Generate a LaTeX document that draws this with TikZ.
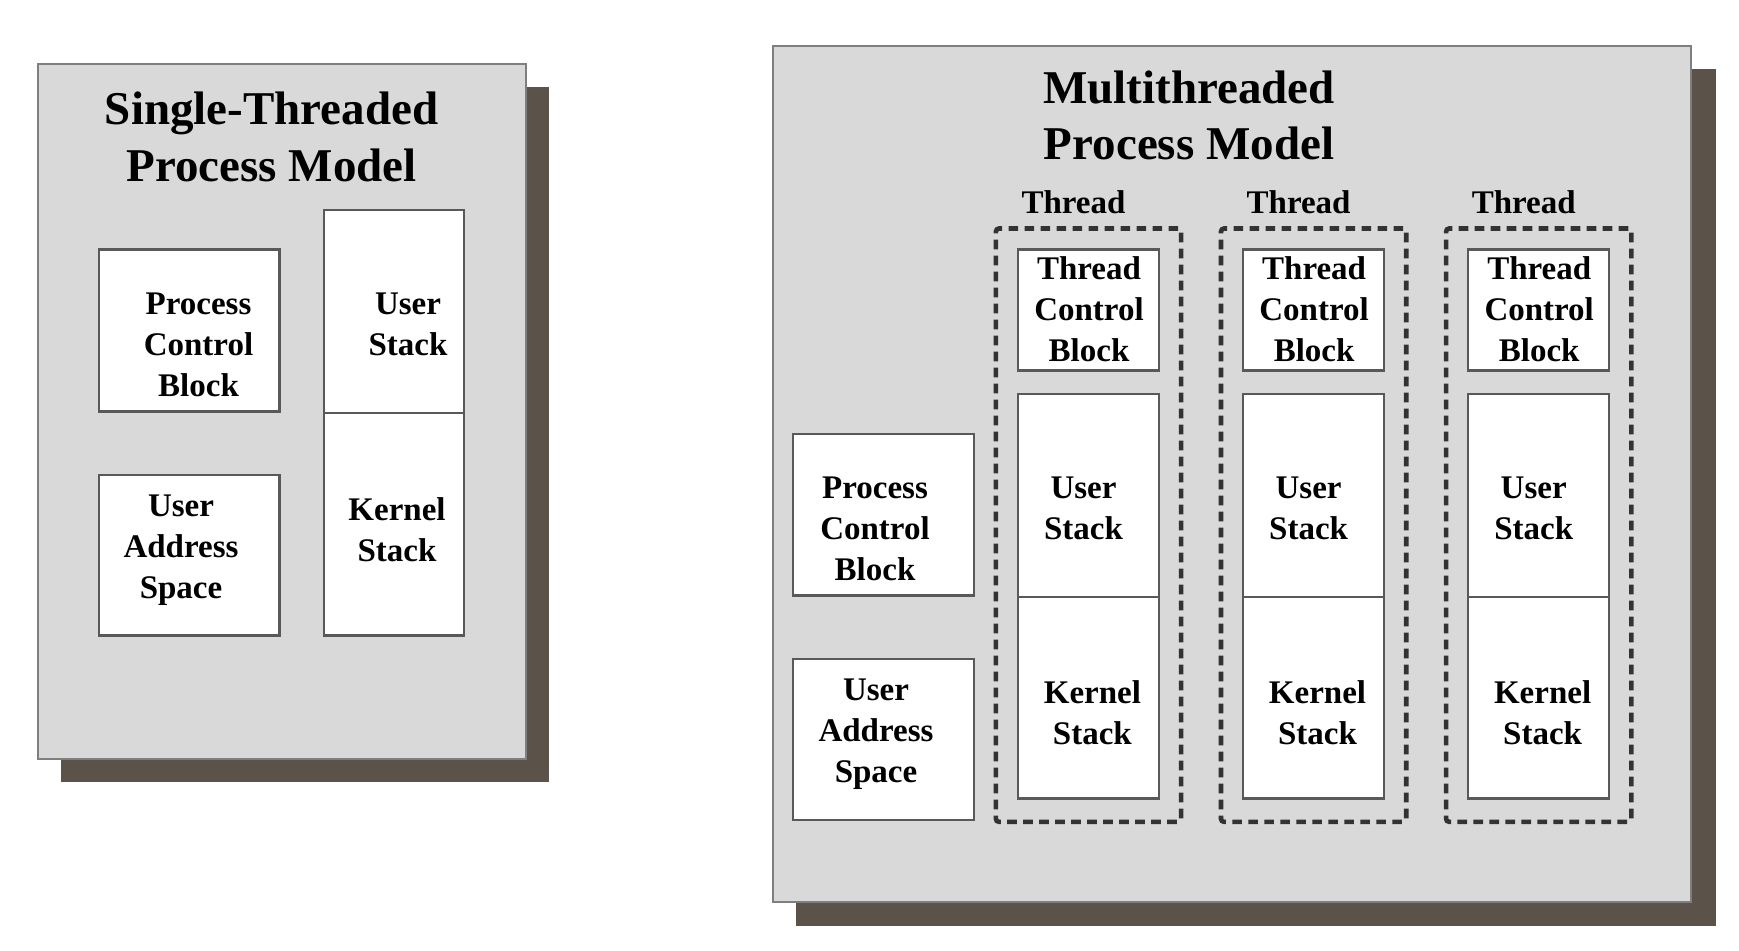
\documentclass[tikz,border=0pt]{standalone}
\usepackage{fontspec}
\setmainfont{Liberation Serif}
\usetikzlibrary{fit}
\definecolor{panelfill}{HTML}{D9D9D9}
\definecolor{shadowc}{HTML}{5B5249}
\definecolor{edgec}{HTML}{7F7F7F}
\tikzset{
 panel/.style={draw=edgec, line width=1pt, fill=panelfill, inner sep=0pt},
 shadebox/.style={fill=shadowc, draw=none, inner sep=0pt},
 wbox/.style={draw=black!65, line width=1.1pt, fill=white, inner sep=0pt},
 tbox/.style={draw=black!80, line width=2.3pt, dash pattern=on 4.8pt off 3.2pt, rounded corners=1.5pt, inner sep=0pt},
 ttl/.style={font=\fontsize{23.5}{28.3}\selectfont\bfseries, align=center, inner sep=0pt},
 lbl/.style={font=\fontsize{16.5}{20.5}\selectfont\bfseries, align=center, inner sep=0pt},
}
\begin{document}
\begin{tikzpicture}[x=0.5pt,y=-0.5pt]
\useasboundingbox[fill=white] (0,0) rectangle (1739,950);
% ---------- single-threaded ----------
\node[shadebox, fit={(60.7,87.3)(549,781.8)}] (s1shadow) {};
\node[panel, fit={(37.7,64.3)(525.7,758.6)}] (single) {};
\node[ttl] (t1) at (271.7,137) {Single-Threaded\\Process Model};
\node[wbox, fit={(98.7,249.5)(279.5,411.4)}] (pcb1) {};
\node[lbl] (pcb1l) at (198.5,345) {Process\\Control\\Block};
\node[wbox, fit={(98.7,474.7)(279.5,635.5)}] (uas1) {};
\node[lbl] (uas1l) at (181,550) {User\\Address\\Space};
\node[wbox, fit={(323.8,209.6)(463.6,412.6)}] (us1) {};
\node[lbl] (us1l) at (408,324.4) {User\\Stack};
\node[wbox, fit={(323.8,412.6)(463.6,635.5)}] (ks1) {};
\node[lbl] (ks1l) at (397,529.5) {Kernel\\Stack};
% ---------- multithreaded ----------
\node[shadebox, fit={(796,68.5)(1715.6,926)}] (s2shadow) {};
\node[panel, fit={(773,45.5)(1691.3,901.6)}] (multi) {};
\node[ttl] (t2) at (1189,115.3) {Multithreaded\\Process Model};
\node[wbox, fit={(793,433.6)(973.7,595.5)}] (pcb2) {};
\node[lbl] (pcb2l) at (875,529) {Process\\Control\\Block};
\node[wbox, fit={(793,658.7)(973.7,819.6)}] (uas2) {};
\node[lbl] (uas2l) at (876,734) {User\\Address\\Space};
\foreach \i/\dx in {1/0,2/225.1,3/450.2}{
  \node[lbl] (thl\i) at (1073.5+\dx,201.8) {Thread};
  \node[tbox, fit={(995.9+\dx,228.5)(1181.1+\dx,821.8)}] (thr\i) {};
  \node[wbox, fit={(1018+\dx,249.5)(1159+\dx,370.4)}] (tcb\i) {};
  \node[lbl] (tcbl\i) at (1089+\dx,309.4) {Thread\\Control\\Block};
  \node[wbox, fit={(1018+\dx,393.7)(1159+\dx,596.6)}] (us\i x) {};
  \node[lbl] (usl\i) at (1083.5+\dx,508.5) {User\\Stack};
  \node[wbox, fit={(1018+\dx,596.6)(1159+\dx,798.5)}] (ks\i x) {};
  \node[lbl] (ksl\i) at (1092.4+\dx,713) {Kernel\\Stack};
}
\end{tikzpicture}
\end{document}
